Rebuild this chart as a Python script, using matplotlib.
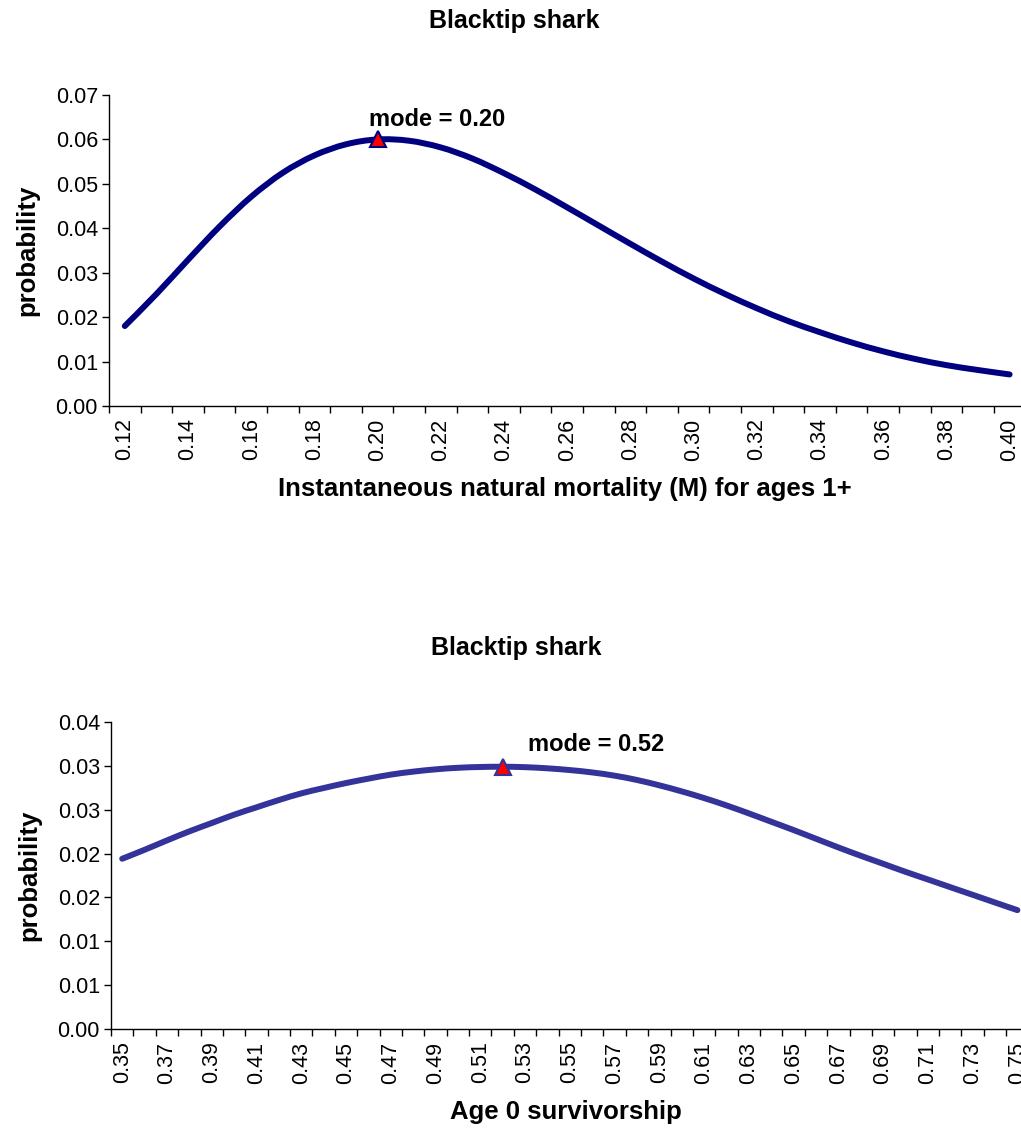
import numpy as np
import matplotlib
matplotlib.use("Agg")
import matplotlib.pyplot as plt
from matplotlib.path import Path
from matplotlib.patches import PathPatch
from matplotlib.ticker import FixedLocator, FuncFormatter

plt.rcParams['font.family'] = ['Liberation Sans', 'DejaVu Sans']

# --- data ---
# top panel: instantaneous natural mortality M (ages 1+)
m_cats = [0.12, 0.13, 0.14, 0.15, 0.16, 0.17, 0.18, 0.19, 0.20, 0.21,
          0.22, 0.23, 0.24, 0.25, 0.26, 0.27, 0.28, 0.29, 0.30, 0.31,
          0.32, 0.33, 0.34, 0.35, 0.36, 0.37, 0.38, 0.39, 0.40]
m_prob = [0.0180, 0.0252, 0.0329, 0.0404, 0.0471, 0.0525, 0.0564, 0.0589, 0.0600, 0.0597,
          0.0582, 0.0557, 0.0524, 0.0487, 0.0447, 0.0406, 0.0365, 0.0325, 0.0287, 0.0252,
          0.0220, 0.0191, 0.0166, 0.0143, 0.0123, 0.0106, 0.0092, 0.0081, 0.0071]
m_mode = 0.20

# bottom panel: age 0 survivorship
s_cats = [0.35, 0.36, 0.37, 0.38, 0.39, 0.40, 0.41, 0.42, 0.43, 0.44,
          0.45, 0.46, 0.47, 0.48, 0.49, 0.50, 0.51, 0.52, 0.53, 0.54,
          0.55, 0.56, 0.57, 0.58, 0.59, 0.60, 0.61, 0.62, 0.63, 0.64,
          0.65, 0.66, 0.67, 0.68, 0.69, 0.70, 0.71, 0.72, 0.73, 0.74, 0.75]
s_prob = [0.01941, 0.02043, 0.02150, 0.02253, 0.02348, 0.02443, 0.02527, 0.02610, 0.02686, 0.02747,
          0.02804, 0.02854, 0.02900, 0.02934, 0.02960, 0.02978, 0.02987, 0.02990, 0.02985, 0.02972,
          0.02952, 0.02925, 0.02888, 0.02839, 0.02778, 0.02709, 0.02633, 0.02549, 0.02458, 0.02363,
          0.02268, 0.02169, 0.02070, 0.01975, 0.01884, 0.01792, 0.01705, 0.01617, 0.01530, 0.01442,
          0.01355]
s_mode = 0.52


def round_half_up(v, pos=None):
    # excel style rounding for the 0.00 number format
    return "%.2f" % (np.floor(v * 100 + 0.5 + 1e-9) / 100)


def smooth_path(x, y):
    # excel-like "smoothed line": cubic bezier through every point
    p = np.column_stack([x, y])
    pp = np.vstack([p[0], p, p[-1]])
    verts = [p[0]]
    codes = [Path.MOVETO]
    for k in range(len(p) - 1):
        c1 = pp[k + 1] + (pp[k + 2] - pp[k]) / 6
        c2 = pp[k + 2] - (pp[k + 3] - pp[k + 1]) / 6
        verts += [c1, c2, pp[k + 2]]
        codes += [Path.CURVE4] * 3
    return Path(verts, codes)


def draw_panel(ax, cats, prob, mode, color, xmax, yticks, xlabel, text_off):
    x = np.arange(len(cats))
    line = PathPatch(smooth_path(x, prob), fill=False, edgecolor=color, lw=4.3,
                     capstyle='round', joinstyle='round')
    ax.add_patch(line)
    i = cats.index(mode)
    ax.plot(x[i], prob[i], marker='^', ms=11, mfc='red', mec=color, mew=1.5, zorder=5)
    ax.annotate("mode = %.2f" % mode, xy=(x[i], prob[i]), xytext=text_off,
                textcoords='offset points', ha='left', va='center',
                fontsize=17, fontweight='bold')

    ax.set_xlim(-0.5, xmax)
    ax.set_ylim(yticks[0], yticks[-1])
    ax.spines['top'].set_visible(False)
    ax.spines['right'].set_visible(False)
    for s in ('left', 'bottom'):
        ax.spines[s].set_linewidth(1.0)

    # category axis: ticks on boundaries, labels on every second category
    ax.xaxis.set_major_locator(FixedLocator(np.arange(-0.5, len(cats) + 0.5, 1)))
    ax.xaxis.set_major_formatter(FuncFormatter(lambda v, p: ""))
    ax.xaxis.set_minor_locator(FixedLocator(x[::2]))
    ax.set_xticklabels(["%.2f" % c for c in cats[::2]], minor=True, rotation=90, fontsize=15.5)
    ax.tick_params(axis='x', which='major', direction='out', length=5, width=1)
    ax.tick_params(axis='x', which='minor', length=0, pad=9)

    ax.set_yticks(yticks)
    ax.yaxis.set_major_formatter(FuncFormatter(round_half_up))
    ax.tick_params(axis='y', direction='out', length=5, width=1, labelsize=15.5, pad=3)

    ax.set_ylabel("probability", fontsize=18.5, fontweight='bold', labelpad=12)
    ax.set_xlabel(xlabel, fontsize=18.5, fontweight='bold', labelpad=12)


fig = plt.figure(figsize=(10.21, 11.28), dpi=100)

ax1 = fig.add_axes([109 / 1021, 1 - 406 / 1128, 1 - 109 / 1021, (406 - 95) / 1128])
draw_panel(ax1, m_cats, m_prob, m_mode, '#000080', (1021 - 109) / 31.6 - 0.5,
           [0.0, 0.01, 0.02, 0.03, 0.04, 0.05, 0.06, 0.07],
           "Instantaneous natural mortality (M) for ages 1+", (-6.5, 14.5))

ax2 = fig.add_axes([111 / 1021, 1 - 1029 / 1128, 1 - 111 / 1021, (1029 - 722) / 1128])
draw_panel(ax2, s_cats, s_prob, s_mode, '#333399', (1021 - 111) / 22.38 - 0.5,
           [0.0, 0.005, 0.01, 0.015, 0.02, 0.025, 0.03, 0.035],
           "Age 0 survivorship", (18, 16))

fig.text(514 / 1021, 1 - 21 / 1128, "Blacktip shark", ha='center', va='center',
         fontsize=18, fontweight='bold')
fig.text(516 / 1021, 1 - 648 / 1128, "Blacktip shark", ha='center', va='center',
         fontsize=18, fontweight='bold')

fig.savefig("out.png", dpi=100)
